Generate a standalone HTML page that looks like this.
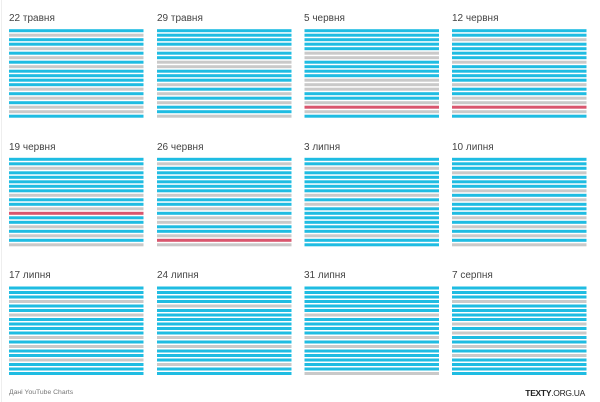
<!DOCTYPE html>
<html><head><meta charset="utf-8"><style>
html,body{margin:0;padding:0;background:#fff;width:600px;height:402px;overflow:hidden}
svg{display:block}
.t{font-family:"Liberation Sans","DejaVu Sans",sans-serif;font-size:10px;fill:#444}
</style></head><body>
<svg id="s" width="600" height="402" xmlns="http://www.w3.org/2000/svg">
<rect x="0" y="0" width="600" height="402" fill="#fff"/>
<line x1="1.5" y1="0" x2="1.5" y2="402" stroke="#eee" stroke-width="1"/>
<g id="g"></g>
<text class="t" x="9" y="21">22 травня</text>
<text class="t" x="157" y="21">29 травня</text>
<text class="t" x="304" y="21">5 червня</text>
<text class="t" x="452" y="21">12 червня</text>
<text class="t" x="9" y="150">19 червня</text>
<text class="t" x="157" y="150">26 червня</text>
<text class="t" x="304" y="150">3 липня</text>
<text class="t" x="452" y="150">10 липня</text>
<text class="t" x="9" y="278">17 липня</text>
<text class="t" x="157" y="278">24 липня</text>
<text class="t" x="304" y="278">31 липня</text>
<text class="t" x="452" y="278">7 серпня</text>
<text x="9" y="394" style="font-family:'Liberation Sans',sans-serif;font-size:6.8px;fill:#777">Дані YouTube Charts</text>
<text x="585" y="396" text-anchor="end" style="font-family:'Liberation Sans',sans-serif;font-size:8.5px;fill:#222;letter-spacing:-0.3px"><tspan font-weight="bold">TEXTY</tspan>.ORG.UA</text>
</svg>
<script>
var P=[
"BGBBGBGBGBBBBGBGBGGB","BBBBGBBGGBBBGBGBGBBG","BBBBBGGBBBBGGGBBGRGB","BBGBBBBGBBBBGBBGGRGB",
"BBGBBBBBGBBGRBBGBGBG","BGBBBBBBGBBGBGGBBGRG","BBGBBBBBGBGBBBBBBGBB","BBBGBBBGBGBBBGBGBGBG",
"BBBGBBGBBBBGBGBBGBBB","BBBBGBBBBBBGBGBBBGBB","BBBBBBGBBBBGBGBBBBBG","BBBGBBBBGBGBBGBGBBBB"];
var C={B:"#1fbce2",G:"#c9c9c9",R:"#d9566e"};
var X=[9,157,304.5,452],Y=[29.2,157.8,286.5],h="";
for(var i=0;i<12;i++){var x=X[i%4],y=Y[Math.floor(i/4)];
for(var j=0;j<20;j++){h+='<rect x="'+x+'" y="'+(y+j*4.5).toFixed(2)+'" width="134.5" height="3" fill="'+C[P[i][j]]+'"/>';}}
document.getElementById("g").innerHTML=h;
</script>
</body></html>
